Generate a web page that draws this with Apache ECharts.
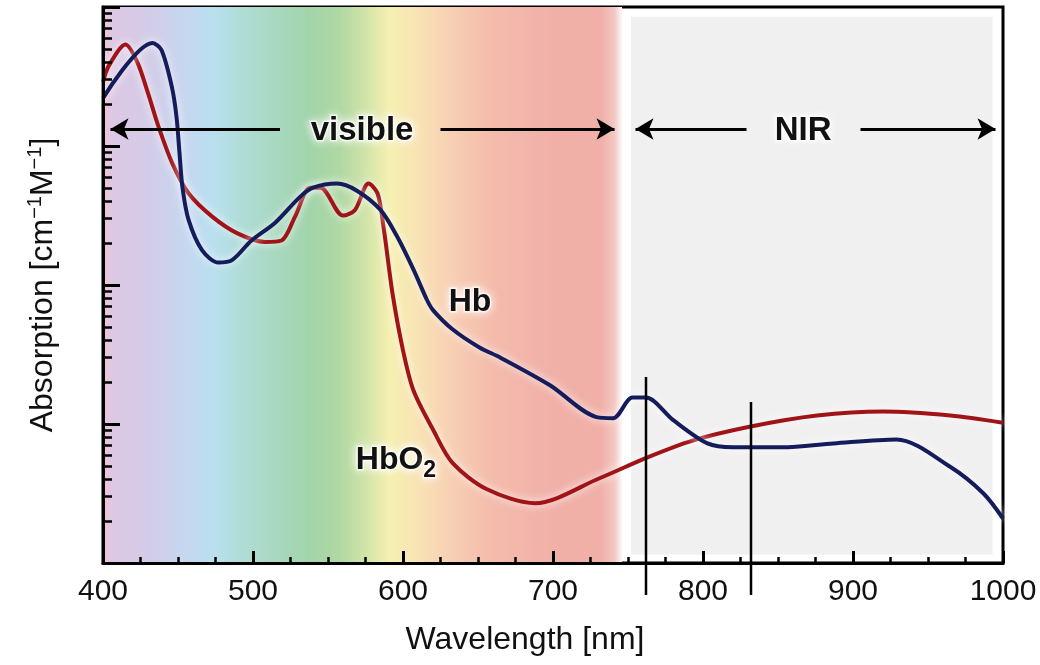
<!DOCTYPE html>
<html><head><meta charset="utf-8">
<script src="https://cdn.jsdelivr.net/npm/echarts@6/dist/echarts.min.js"></script>
<style>html,body{margin:0;padding:0;background:#fff}#c{width:1040px;height:665px}</style>
</head><body><div id="c"></div>
<script>
// ---- data ----
const hbWavelengths   = [400, 433, 439, 446, 449, 451, 453, 457, 466, 477, 486, 499, 515, 531, 540, 556, 569, 585, 596, 607, 616, 620, 633, 651, 665, 698, 729, 740, 753, 762, 780, 803, 820, 853, 887, 929, 965, 987, 1000];
const hbValues        = [221000, 551000, 490000, 263000, 162000, 89000, 50000, 29500, 17800, 14500, 15100, 20900, 28200, 42700, 50100, 53700, 47900, 34700, 22400, 12900, 7800, 6600, 4800, 3550, 3000, 1900, 1120, 1100, 1550, 1550, 1070, 725, 680, 680, 725, 775, 490, 316, 209];
const hbo2Wavelengths = [400, 404, 415, 423, 430, 437, 446, 457, 473, 490, 508, 519, 528, 538, 545, 560, 568, 577, 583, 587, 593, 600, 607, 620, 633, 656, 688, 731, 763, 793, 831, 876, 920, 965, 1000];
const hbo2Values      = [290000, 380000, 537000, 398000, 240000, 138000, 75900, 45700, 30900, 23400, 20400, 20900, 31000, 50100, 50100, 31600, 34700, 53700, 45700, 26300, 8700, 3390, 1740, 912, 525, 339, 269, 407, 575, 759, 955, 1150, 1230, 1150, 1020];
const xTickValues = [400, 500, 600, 700, 800, 900, 1000];
const xTickLabels = ['400', '500', '600', '700', '800', '900', '1000'];
const visibleRange = [400, 746];
const nirRange = [752, 993];
const markerLines = [762, 832];          // wavelengths of the two vertical markers
const markerTops = [2180, 1440];         // absorption value at the top of each marker
const arrowSegments = [[405, 518, 'start'], [625, 741, 'end'], [755, 829, 'start'], [905, 995, 'end']];
const arrowLevel = 132500;
const regionLabels = [['visible', 572.7, 128000], ['NIR', 866.7, 128000]];
const curveLabels = [['Hb', 644.7, 7550], ['HbO2', 595.3, 551]];

const FONT = "'Liberation Sans', Arial, Helvetica, sans-serif";
const pair = (xs, ys) => xs.map((x, i) => [x, ys[i]]);
const chart = echarts.init(document.getElementById('c'), null, {renderer: 'canvas'});

const spectrum = [[400,'#eec4da'],[408,'#dcc8e4'],[430,'#d4cce8'],[458,'#c4d8f0'],[475,'#b8e0ee'],[491,'#b0dcd8'],[515,'#a8d8c0'],[538,'#a2d4aa'],[558,'#b0d8a4'],[575,'#d0e4a8'],[591,'#f6f0b0'],[611,'#f8e2b4'],[631,'#f8d0b4'],[658,'#f4bcac'],[700,'#f0b0a8'],[732,'#f0b0a8'],[741,'#f4c8c4'],[746,'#fbf8f8']];
const span = visibleRange[1] - visibleRange[0];
const stops = spectrum.map(s => ({offset: (s[0] - visibleRange[0]) / span, color: s[1]}));

const glow = {shadowColor: 'rgba(255,255,255,0.95)', shadowBlur: 8};

const option = {
  animation: false,
  backgroundColor: '#fff',
  grid: {left: 103, right: 37, top: 7, bottom: 102, show: true, borderColor: '#000', borderWidth: 3,
         backgroundColor: '#fff', containLabel: false, outerBoundsMode: 'none'},
  xAxis: {
    type: 'value', min: 400, max: 1000, interval: 100, z: 20,
    axisLine: {show: true, onZero: false, lineStyle: {color: '#000', width: 3}},
    axisTick: {show: true, inside: true, length: 12, lineStyle: {color: '#000', width: 3}},
    minorTick: {show: true, splitNumber: 4, length: 6, lineStyle: {color: '#000', width: 2.5}},
    splitLine: {show: false}, minorSplitLine: {show: false},
    axisLabel: {color: '#111', fontSize: 30, fontFamily: FONT, margin: 14,
      formatter: v => { const i = xTickValues.indexOf(v); return i >= 0 ? xTickLabels[i] : ''; }}
  },
  yAxis: {
    type: 'log', logBase: 10, min: 100, max: 1000000, z: 20,
    axisLine: {show: true, lineStyle: {color: '#000', width: 3}},
    axisTick: {show: true, inside: true, length: 17, lineStyle: {color: '#000', width: 3}},
    minorTick: {show: true, splitNumber: 9, length: 9, lineStyle: {color: '#000', width: 2.5}},
    axisLabel: {show: false}, splitLine: {show: false}, minorSplitLine: {show: false},
    name: '{t|Absorption [cm}{s|−1}{t|M}{s|−1}{t|]}', nameLocation: 'middle', nameGap: 42, nameRotate: 90,
    nameTextStyle: {rich: {
      t: {fontSize: 32, fontFamily: FONT, color: '#111', lineHeight: 36, verticalAlign: 'middle'},
      s: {fontSize: 20, fontFamily: FONT, color: '#111', lineHeight: 20, verticalAlign: 'top'}
    }}
  },
  series: [
    {
      name: 'bg', type: 'line', data: [], z: 1, silent: true,
      markArea: {silent: true, data: [
        [{xAxis: visibleRange[0], itemStyle: {color: {type: 'linear', x: 0, y: 0, x2: 1, y2: 0, colorStops: stops}}}, {xAxis: visibleRange[1]}],
        [{xAxis: nirRange[0], yAxis: 115, itemStyle: {color: '#f1f0f1'}}, {xAxis: nirRange[1], yAxis: 850000}]
      ]}
    },
    {
      name: 'HbO2', type: 'line', data: pair(hbo2Wavelengths, hbo2Values), z: 3, showSymbol: false,
      smooth: 0.3,
      lineStyle: Object.assign({color: '#a01418', width: 4}, glow)
    },
    {
      name: 'Hb', type: 'line', data: pair(hbWavelengths, hbValues), z: 4, showSymbol: false,
      smooth: 0.3,
      lineStyle: Object.assign({color: '#141c5c', width: 4}, glow)
    },
    {
      name: 'arrows', type: 'line', data: [], z: 5, silent: true, clip: false,
      markLine: {
        silent: true, animation: false, label: {show: false},
        lineStyle: {color: '#000', width: 3, type: 'solid'},
        symbolSize: [16, 18],
        data: arrowSegments.map(a => [
          {coord: [a[0], arrowLevel], symbol: a[2] === 'start' ? 'arrow' : 'none'},
          {coord: [a[1], arrowLevel], symbol: a[2] === 'end' ? 'arrow' : 'none'}
        ])
      }
    }
  ]
};
chart.setOption(option);

function px(x, y) { return chart.convertToPixel({gridIndex: 0}, [x, y]); }
const graphics = [];
markerLines.forEach((w, i) => {
  const top = px(w, markerTops[i]);
  const bottom = px(w, 58.9);
  graphics.push({type: 'line', z: 50, silent: true,
    shape: {x1: top[0], y1: top[1], x2: bottom[0], y2: bottom[1]},
    style: {stroke: '#000', lineWidth: 2.5}});
});
const textStyleBase = {fill: '#111', fontFamily: FONT, fontWeight: 'bold', fontSize: 33,
  textShadowColor: '#fff', textShadowBlur: 10, stroke: 'rgba(255,255,255,0.7)', lineWidth: 3,
  align: 'center', verticalAlign: 'middle'};
regionLabels.forEach(l => {
  const p = px(l[1], l[2]);
  graphics.push({type: 'text', z: 60, silent: true, x: p[0], y: p[1],
    style: Object.assign({}, textStyleBase, {text: l[0]})});
});
curveLabels.forEach(l => {
  const p = px(l[1], l[2]);
  const txt = l[0] === 'HbO2' ? '{m|HbO}{b|2}' : '{m|' + l[0] + '}';
  graphics.push({type: 'text', z: 60, silent: true, x: p[0], y: p[1],
    style: Object.assign({}, textStyleBase, {text: txt, rich: {
      m: {fontFamily: FONT, fontWeight: 'bold', fontSize: 32, fill: '#111', lineHeight: 44, verticalAlign: 'middle',
          textShadowColor: '#fff', textShadowBlur: 10},
      b: {fontFamily: FONT, fontWeight: 'bold', fontSize: 23, fill: '#111', lineHeight: 22, verticalAlign: 'bottom',
          textShadowColor: '#fff', textShadowBlur: 10}
    }})});
});
graphics.push({type: 'text', z: 60, silent: true, x: 525, y: 640,
  style: {text: 'Wavelength [nm]', fill: '#111', fontFamily: FONT, fontSize: 32, align: 'center', verticalAlign: 'middle'}});
chart.setOption({graphic: graphics});
</script>
</body></html>
